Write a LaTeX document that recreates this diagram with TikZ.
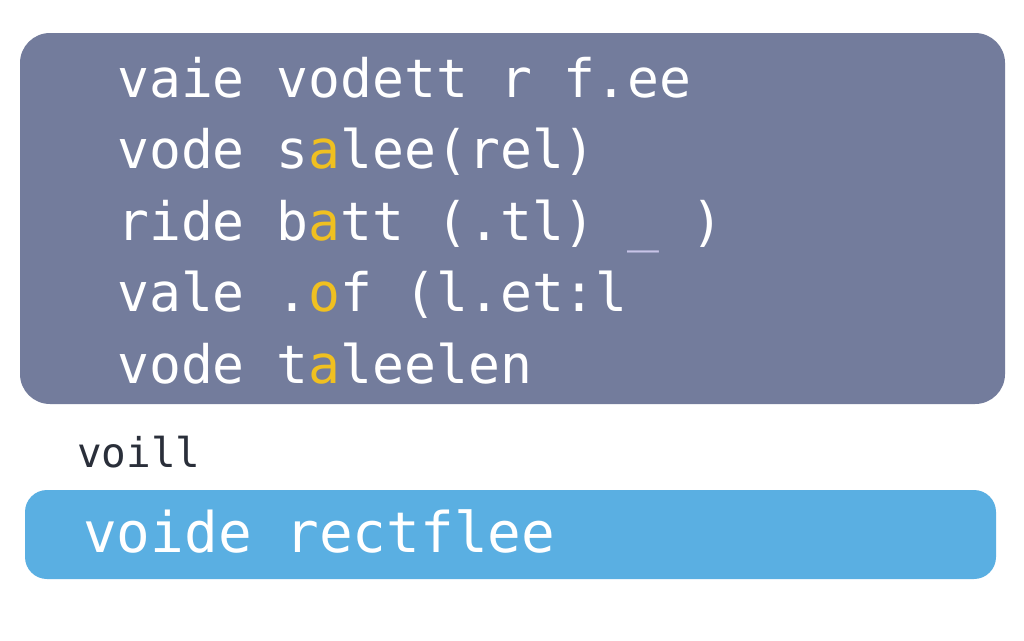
\documentclass[tikz,border=0pt]{standalone}
\usepackage{fontspec}
\setmonofont{DejaVu Sans Mono}
\definecolor{panel}{HTML}{737C9C}
\definecolor{barblue}{HTML}{5AAFE2}
\definecolor{hl}{HTML}{F0C020}
\definecolor{us}{HTML}{C8C4E8}
\definecolor{dark}{HTML}{2A2F3A}
\begin{document}
\begin{tikzpicture}[x=1pt,y=-1pt,
  code/.style={anchor=base west,inner sep=0pt,text=white,font=\ttfamily\fontsize{53}{53}\selectfont}]
\useasboundingbox (0,0) rectangle (1024,640);
\fill[white] (0,0) rectangle (1024,640);
\fill[panel,rounded corners=30pt] (20,33) rectangle (1005,404);
\fill[barblue,rounded corners=22pt] (25,490) rectangle (996,579);
\node[code] (l1) at (117,97) {vaie vodett r f.ee};
\node[code] (l2) at (117,168) {vode s\textcolor{hl}{a}lee(rel)};
\node[code] (l3) at (117,240) {ride b\textcolor{hl}{a}tt (.tl) \textcolor{us}{\_}  )};
\node[code] (l4) at (117,311) {vale .\textcolor{hl}{o}f (l.et:l};
\node[code] (l5) at (117,383) {vode t\textcolor{hl}{a}leelen};
\node[code,text=dark,font=\ttfamily\fontsize{41}{41}\selectfont] (v) at (77,467) {voill};
\node[code,font=\ttfamily\fontsize{56}{56}\selectfont] (b) at (83,552) {voide rectflee};
\end{tikzpicture}
\end{document}
